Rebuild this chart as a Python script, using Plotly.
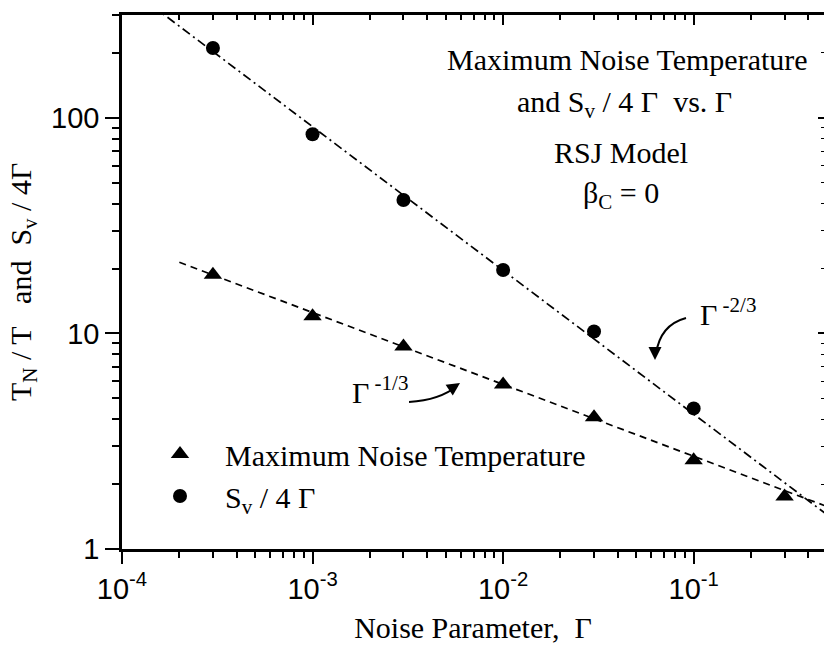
import numpy as np
import plotly.graph_objects as go

# ---------------- data ----------------
gamma_tn = [3e-4, 1e-3, 3e-3, 1e-2, 3e-2, 1e-1, 3e-1]
tn_over_t = [18.7, 12.0, 8.7, 5.8, 4.08, 2.58, 1.75]

gamma_sv = [3e-4, 1e-3, 3e-3, 1e-2, 3e-2, 1e-1]
sv_over_4g = [211, 84, 41.6, 19.7, 10.2, 4.49]

# power-law guide lines  y = A * Gamma^p
fit13_x = [2e-4, 0.5]
fit13_amp, fit13_pow = 1.25, -1.0 / 3.0
fit23_x = [1e-4, 0.5]
fit23_amp, fit23_pow = 0.91, -2.0 / 3.0

x_tickvals = [1e-4, 1e-3, 1e-2, 1e-1]
x_ticktext = ["10<sup>-4</sup>", "10<sup>-3</sup>", "10<sup>-2</sup>", "10<sup>-1</sup>"]
y_tickvals = [1, 10, 100]
y_ticktext = ["1", "10", "100"]

# ---------------- layout geometry ----------------
W, H = 824, 647
L, R, T, B = 122, 0, 15, 98
X_RANGE = [-4, -0.316]
Y_RANGE = [0, np.log10(300)]
pw, ph = W - L - R, H - T - B


def px(x):
    return (x - L) / pw


def py(y):
    return (H - B - y) / ph


x_minor = [m * 10.0 ** e for e in range(-4, 0) for m in range(2, 10)]
y_minor = [m * 10.0 ** e for e in range(0, 3) for m in range(2, 10) if m * 10.0 ** e <= 300]

serif = "Liberation Serif"
sans = "Liberation Sans"

fig = go.Figure()

f13y = [fit13_amp * x ** fit13_pow for x in fit13_x]
f23y = [fit23_amp * x ** fit23_pow for x in fit23_x]

fig.add_trace(go.Scatter(x=fit13_x, y=f13y, mode="lines", showlegend=False,
                         line=dict(color="black", width=1.7, dash="7px,5px")))
fig.add_trace(go.Scatter(x=fit23_x, y=f23y, mode="lines", showlegend=False,
                         line=dict(color="black", width=1.7, dash="9px,4px,2px,4px")))

fig.add_trace(go.Scatter(x=gamma_tn, y=tn_over_t, mode="markers",
                         name="Maximum Noise Temperature",
                         marker=dict(symbol="triangle-up", size=16, color="black")))
fig.add_trace(go.Scatter(x=gamma_sv, y=sv_over_4g, mode="markers",
                         name="S<sub>v</sub> / 4 Γ",
                         marker=dict(symbol="circle", size=14, color="black")))

# dummy trace for mirrored (inside-tick) top/right axes
fig.add_trace(go.Scatter(x=[None], y=[None], xaxis="x2", yaxis="y2",
                         showlegend=False, hoverinfo="skip"))

fig.update_layout(
    width=W, height=H,
    margin=dict(l=L, r=R, t=T, b=B),
    paper_bgcolor="white", plot_bgcolor="white",
    showlegend=True,
    legend=dict(x=px(135), y=py(428), xanchor="left", yanchor="top",
                font=dict(family=serif, size=30, color="black"),
                bgcolor="rgba(0,0,0,0)", itemwidth=80, tracegroupgap=0),
    xaxis=dict(type="log", range=X_RANGE, showgrid=False, zeroline=False,
               showline=True, linecolor="black", linewidth=2.5,
               tickmode="array", tickvals=x_tickvals, ticktext=x_ticktext,
               ticks="outside", ticklen=12, tickwidth=2, tickcolor="black",
               minor=dict(tickmode="array", tickvals=x_minor, ticks="outside",
                          ticklen=6, tickwidth=1.5, tickcolor="black"),
               tickfont=dict(family=sans, size=29, color="black"),
               title=dict(text="Noise Parameter,\u00a0\u00a0Γ",
                          font=dict(family=serif, size=30, color="black"),
                          standoff=14)),
    yaxis=dict(type="log", range=Y_RANGE, showgrid=False, zeroline=False,
               showline=True, linecolor="black", linewidth=2.5,
               tickmode="array", tickvals=y_tickvals, ticktext=y_ticktext,
               ticks="outside", ticklen=14, tickwidth=2, tickcolor="black",
               minor=dict(tickmode="array", tickvals=y_minor, ticks="outside",
                          ticklen=7, tickwidth=1.5, tickcolor="black"),
               tickfont=dict(family=sans, size=29, color="black")),
    xaxis2=dict(type="log", range=X_RANGE, overlaying="x", side="top",
                showgrid=False, zeroline=False, showline=True, linecolor="black",
                linewidth=2.5, tickmode="array", tickvals=x_tickvals,
                showticklabels=False, ticks="inside", ticklen=10, tickwidth=2,
                tickcolor="black",
                minor=dict(tickmode="array", tickvals=x_minor, ticks="inside",
                           ticklen=5, tickwidth=1.5, tickcolor="black")),
    yaxis2=dict(type="log", range=Y_RANGE, overlaying="y", side="right",
                showgrid=False, zeroline=False, showline=False,
                tickmode="array", tickvals=y_tickvals, showticklabels=False,
                ticks="inside", ticklen=6, tickwidth=2, tickcolor="black",
                minor=dict(tickmode="array", tickvals=y_minor, ticks="inside",
                           ticklen=3, tickwidth=1, tickcolor="black")),
)

ann_font = dict(family=serif, size=30, color="black")
annotations = [
    dict(text="T<sub>N</sub> / T\u00a0\u00a0\u00a0and\u00a0\u00a0S<sub>v</sub> / 4Γ",
         x=px(23), y=py(282), textangle=-90),
    dict(text="Maximum Noise Temperature", x=px(627), y=py(60)),
    dict(text="and S<sub>v</sub> / 4 Γ\u00a0\u00a0vs. Γ", x=px(624), y=py(104)),
    dict(text="RSJ Model", x=px(621), y=py(153)),
    dict(text="β<sub>C</sub> = 0", x=px(621), y=py(195)),
    dict(text="Γ<sup> -2/3</sup>", x=px(728), y=py(312)),
    dict(text="Γ<sup> -1/3</sup>", x=px(380), y=py(390)),
]
for a in annotations:
    a.setdefault("font", ann_font)
    a.update(xref="paper", yref="paper", showarrow=False,
             xanchor="center", yanchor="middle")
    fig.add_annotation(**a)

# curved pointer arrows
def curve(p0, c, p1):
    return (f"M {px(p0[0])},{py(p0[1])} Q {px(c[0])},{py(c[1])} "
            f"{px(p1[0])},{py(p1[1])}")

fig.add_shape(type="path", xref="paper", yref="paper",
              path=curve((409, 402), (440, 400), (457, 386)),
              line=dict(color="black", width=2))
fig.add_shape(type="path", xref="paper", yref="paper",
              path=curve((686, 318), (660, 325), (656, 354)),
              line=dict(color="black", width=2))
# arrow heads
fig.add_annotation(x=px(460), y=py(383), xref="paper", yref="paper", text="",
                   showarrow=True, arrowhead=2, arrowsize=1.3, arrowwidth=2,
                   ax=-9, ay=6, arrowcolor="black")
fig.add_annotation(x=px(655), y=py(360), xref="paper", yref="paper", text="",
                   showarrow=True, arrowhead=2, arrowsize=1.3, arrowwidth=2,
                   ax=0, ay=-10, arrowcolor="black")

fig.write_html("out.html")
